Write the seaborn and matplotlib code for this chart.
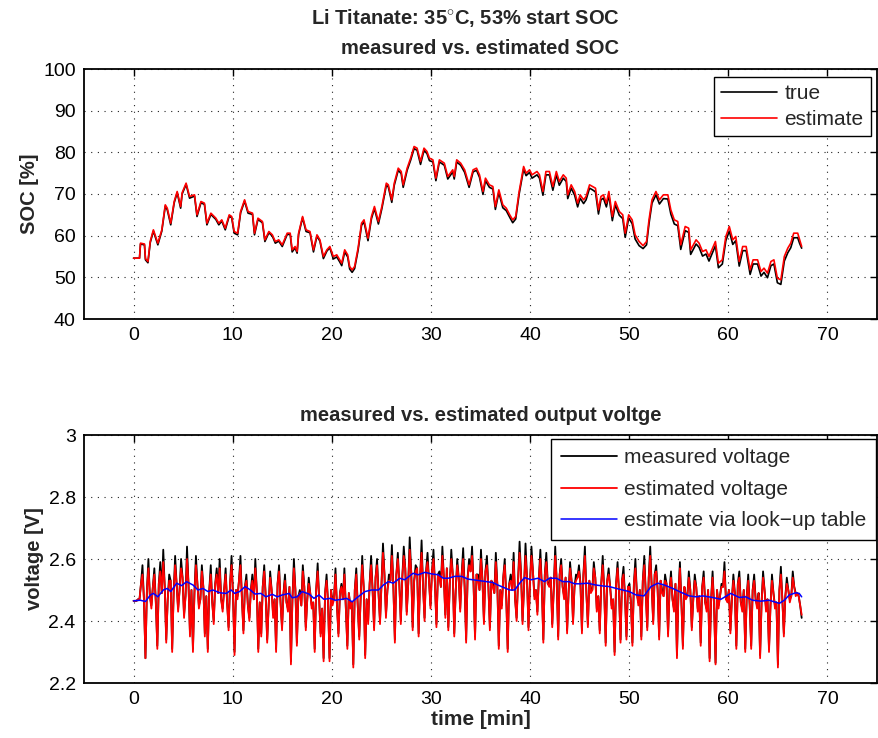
import numpy as np
import pandas as pd
import matplotlib
matplotlib.use("Agg")
import matplotlib.pyplot as plt
import seaborn as sns

# ---------------- SOC trace (minutes, percent) ----------------
soc_t = [0, 0.6, 0.7, 1.1, 1.2, 1.45, 1.68, 2.0, 2.45, 2.85, 3.2, 3.4, 3.75, 4.1, 4.4, 4.75, 4.9,
         5.3, 5.65, 6.15, 6.4, 6.8, 7.15, 7.4, 7.8, 8.3, 8.6, 8.9, 9.25, 9.65, 9.9, 10.15, 10.5,
         10.8, 11.2, 11.55, 12.0, 12.2, 12.55, 13.0, 13.25, 13.65, 14.0, 14.3, 14.65, 15.0, 15.5,
         15.8, 16.0, 16.3, 16.5, 16.65, 17.05, 17.4, 17.8, 18.15, 18.5, 18.8, 19.15, 19.5, 19.8,
         20.15, 20.5, 20.8, 21.0, 21.3, 21.6, 21.8, 22.05, 22.3, 22.65, 23.0, 23.25, 23.65, 24.0,
         24.3, 24.7, 25.05, 25.5, 25.7, 26.05, 26.3, 26.7, 27.0, 27.2, 27.6, 27.95, 28.3, 28.6,
         28.95, 29.3, 29.6, 29.85, 30.2, 30.5, 30.85, 31.35, 31.7, 32.2, 32.35, 32.6, 33.0, 33.4,
         33.85, 34.25, 34.6, 34.9, 35.25, 35.5, 35.9, 36.25, 36.5, 36.85, 37.25, 37.6, 37.95,
         38.25, 38.55, 38.9, 39.35, 39.6, 39.95, 40.2, 40.7, 40.95, 41.3, 41.6, 41.95, 42.3,
         42.65, 42.95, 43.35, 43.65, 43.8, 44.15, 44.5, 44.8, 45.05, 45.4, 45.65, 46.0, 46.3,
         46.6, 46.9, 47.15, 47.4, 47.7, 47.95, 48.3, 48.6, 49.0, 49.35, 49.6, 49.95, 50.3, 50.6,
         51.0, 51.4, 51.75, 52.0, 52.3, 52.7, 53.05, 53.45, 53.9, 54.2, 54.55, 54.9, 55.2, 55.65,
         56.0, 56.2, 56.75, 57.05, 57.4, 57.75, 58.05, 58.7, 59.0, 59.4, 59.75, 60.1, 60.45,
         60.75, 61.1, 61.45, 61.8, 62.2, 62.5, 62.95, 63.3, 63.6, 63.95, 64.3, 64.6, 64.95, 65.3,
         65.65, 66.0, 66.3, 66.6, 67.0, 67.2, 67.4]

soc_est = [54.6, 54.6, 58.2, 58.0, 54.5, 53.8, 58.6, 61.4, 58.2, 61.4, 67.4, 66.6, 63.0, 68.2, 70.6,
           67.0, 70.3, 72.6, 69.4, 69.8, 65.0, 68.2, 67.8, 63.0, 65.4, 64.2, 63.0, 63.8, 61.8,
           65.0, 64.6, 61.0, 60.6, 65.8, 68.6, 65.8, 65.4, 60.6, 64.2, 63.4, 59.0, 61.0, 60.2,
           58.6, 59.0, 57.8, 60.6, 60.6, 56.6, 57.4, 56.2, 60.6, 64.6, 61.4, 61.0, 56.6, 60.2,
           59.0, 55.0, 56.6, 57.4, 55.0, 55.4, 54.2, 53.4, 56.6, 55.4, 52.6, 51.8, 52.6, 57.0,
           63.0, 63.8, 59.4, 64.6, 67.0, 63.4, 67.0, 72.6, 72.2, 68.6, 72.6, 76.2, 75.4, 72.2,
           76.2, 78.6, 81.4, 81.0, 77.8, 81.0, 80.2, 78.6, 78.2, 73.8, 78.2, 77.4, 74.2, 75.8,
           74.2, 78.2, 77.4, 75.8, 72.2, 75.8, 76.2, 74.6, 70.6, 73.8, 72.2, 71.8, 67.0, 71.0,
           67.4, 66.6, 65.0, 63.8, 64.6, 70.6, 76.6, 75.0, 75.8, 74.6, 75.4, 74.6, 70.6, 75.4,
           75.4, 71.8, 75.4, 73.0, 74.6, 73.8, 69.8, 72.2, 70.6, 67.8, 69.8, 68.6, 69.4, 72.2,
           71.8, 71.4, 66.2, 69.4, 69.8, 67.8, 70.6, 64.6, 68.2, 65.8, 65.0, 60.6, 65.0, 63.8,
           60.2, 58.6, 57.6, 58.6, 63.8, 68.6, 70.6, 68.6, 69.8, 69.8, 66.2, 63.8, 63.4, 57.8,
           62.2, 61.8, 56.6, 59.0, 58.2, 56.2, 56.6, 55.0, 58.6, 53.4, 54.2, 59.8, 62.2, 59.0,
           59.8, 53.8, 57.4, 57.4, 51.8, 54.2, 54.2, 51.4, 52.2, 51.0, 53.8, 54.2, 49.8, 49.4,
           55.0, 57.0, 58.2, 60.6, 60.6, 59.0, 57.4]

soc_true = [54.6, 54.6, 58.0, 57.8, 54.2, 53.5, 58.3, 61.1, 57.8, 61.1, 67.1, 66.2, 62.6, 67.9, 70.3,
            66.6, 70.0, 72.3, 69.0, 69.5, 64.6, 67.9, 67.5, 62.6, 65.1, 63.9, 62.6, 63.5, 61.4,
            64.7, 64.3, 60.6, 60.2, 65.5, 68.3, 65.4, 65.1, 60.2, 63.9, 63.1, 58.6, 60.7, 59.9,
            58.2, 58.7, 57.4, 60.3, 60.3, 56.1, 57.1, 55.8, 60.3, 64.3, 61.0, 60.7, 56.1, 59.9,
            58.7, 54.5, 56.3, 57.1, 54.4, 54.9, 53.7, 52.8, 56.1, 54.9, 52.0, 51.2, 52.1, 56.5,
            62.5, 63.3, 58.8, 64.1, 66.5, 62.8, 66.5, 72.1, 71.7, 68.0, 72.1, 75.7, 74.9, 71.6,
            75.7, 78.1, 80.9, 80.5, 77.1, 80.5, 79.7, 78.0, 77.7, 73.2, 77.7, 76.9, 73.6, 75.3,
            73.6, 77.7, 76.9, 75.2, 71.6, 75.3, 75.7, 74.0, 69.9, 73.2, 71.6, 71.2, 66.3, 70.4,
            66.7, 66.0, 64.4, 63.1, 64.0, 70.0, 76.0, 74.4, 75.2, 73.8, 74.6, 73.8, 69.7, 74.6,
            74.6, 70.9, 74.6, 72.1, 73.8, 73.0, 68.9, 71.4, 69.7, 66.9, 69.0, 67.7, 68.6, 71.4,
            71.0, 70.5, 65.2, 68.6, 69.0, 66.9, 69.8, 63.6, 67.4, 64.9, 64.1, 59.6, 64.2, 62.9,
            59.2, 57.6, 56.9, 57.8, 62.9, 67.8, 69.8, 67.6, 68.9, 68.8, 65.2, 62.8, 62.4, 56.7,
            61.2, 60.8, 55.5, 58.0, 57.2, 55.1, 55.6, 53.9, 57.6, 52.3, 53.2, 58.8, 61.1, 57.9,
            58.8, 52.7, 56.4, 56.4, 50.7, 53.2, 53.2, 50.3, 51.2, 49.9, 52.8, 53.2, 48.7, 48.3,
            53.9, 55.9, 57.1, 59.5, 59.5, 58.1, 57.0]

# ---------------- terminal voltage (V) ----------------
# current-pulse extremes, one every ~0.3 min
v_measured = [
    2.465, 2.465, 2.47, 2.58, 2.28, 2.60, 2.45, 2.57, 2.32, 2.59,
    2.63, 2.34, 2.55, 2.31, 2.61, 2.44, 2.60, 2.42, 2.64, 2.36,
    2.31, 2.61, 2.45, 2.58, 2.36, 2.31, 2.58, 2.40, 2.57, 2.60,
    2.44, 2.57, 2.38, 2.61, 2.30, 2.48, 2.61, 2.37, 2.55, 2.41,
    2.55, 2.60, 2.31, 2.36, 2.58, 2.34, 2.56, 2.42, 2.31, 2.58,
    2.38, 2.55, 2.44, 2.27, 2.60, 2.33, 2.50, 2.58, 2.38, 2.54,
    2.45, 2.31, 2.586, 2.36, 2.28, 2.55, 2.28, 2.46, 2.57, 2.36,
    2.52, 2.57, 2.32, 2.45, 2.26, 2.57, 2.35, 2.61, 2.29, 2.40,
    2.61, 2.38, 2.60, 2.40, 2.65, 2.42, 2.55, 2.645, 2.34, 2.62,
    2.40, 2.64, 2.43, 2.67, 2.38, 2.58, 2.36, 2.66, 2.41, 2.62,
    2.45, 2.63, 2.39, 2.56, 2.64, 2.42, 2.38, 2.63, 2.36, 2.60,
    2.44, 2.635, 2.34, 2.60, 2.64, 2.35, 2.55, 2.63, 2.40, 2.61,
    2.38, 2.52, 2.62, 2.32, 2.45, 2.60, 2.31, 2.55, 2.62, 2.41,
    2.656, 2.40, 2.65, 2.38, 2.64, 2.48, 2.43, 2.63, 2.34, 2.62,
    2.52, 2.39, 2.64, 2.35, 2.60, 2.48, 2.37, 2.59, 2.40, 2.55,
    2.58, 2.37, 2.64, 2.39, 2.50, 2.59, 2.44, 2.37, 2.61, 2.33,
    2.57, 2.45, 2.30, 2.59, 2.34, 2.575, 2.35, 2.52, 2.33, 2.60,
    2.46, 2.35, 2.61, 2.38, 2.64, 2.40, 2.58, 2.35, 2.50, 2.55,
    2.36, 2.56, 2.44, 2.29, 2.59, 2.32, 2.48, 2.56, 2.38, 2.55,
    2.44, 2.33, 2.56, 2.44, 2.28, 2.56, 2.265, 2.45, 2.52, 2.59,
    2.47, 2.37, 2.55, 2.32, 2.56, 2.44, 2.31, 2.55, 2.32, 2.55,
    2.45, 2.29, 2.56, 2.44, 2.31, 2.55, 2.45, 2.26, 2.575, 2.36,
    2.54, 2.47, 2.56, 2.49, 2.48, 2.41]

v_estimated = [
    2.465, 2.465, 2.47, 2.55, 2.28, 2.57, 2.44, 2.55, 2.31, 2.56,
    2.59, 2.33, 2.53, 2.30, 2.58, 2.43, 2.57, 2.41, 2.60, 2.35,
    2.30, 2.58, 2.44, 2.56, 2.35, 2.30, 2.55, 2.39, 2.55, 2.57,
    2.43, 2.55, 2.37, 2.58, 2.29, 2.47, 2.58, 2.36, 2.53, 2.40,
    2.53, 2.57, 2.30, 2.35, 2.56, 2.33, 2.54, 2.41, 2.30, 2.56,
    2.37, 2.53, 2.43, 2.26, 2.57, 2.32, 2.49, 2.56, 2.37, 2.52,
    2.44, 2.30, 2.56, 2.35, 2.27, 2.53, 2.27, 2.45, 2.55, 2.35,
    2.51, 2.55, 2.31, 2.44, 2.25, 2.55, 2.34, 2.58, 2.28, 2.39,
    2.58, 2.37, 2.58, 2.39, 2.62, 2.41, 2.53, 2.61, 2.33, 2.60,
    2.39, 2.61, 2.42, 2.63, 2.37, 2.56, 2.35, 2.62, 2.40, 2.59,
    2.44, 2.60, 2.38, 2.54, 2.61, 2.41, 2.37, 2.60, 2.35, 2.58,
    2.43, 2.60, 2.33, 2.58, 2.61, 2.34, 2.53, 2.60, 2.39, 2.58,
    2.37, 2.51, 2.59, 2.31, 2.44, 2.58, 2.30, 2.53, 2.59, 2.40,
    2.62, 2.39, 2.61, 2.37, 2.61, 2.47, 2.42, 2.60, 2.33, 2.59,
    2.51, 2.38, 2.61, 2.34, 2.58, 2.47, 2.36, 2.57, 2.39, 2.53,
    2.56, 2.36, 2.61, 2.38, 2.49, 2.57, 2.43, 2.36, 2.58, 2.32,
    2.55, 2.44, 2.29, 2.57, 2.33, 2.55, 2.34, 2.51, 2.32, 2.57,
    2.45, 2.34, 2.58, 2.37, 2.61, 2.39, 2.56, 2.34, 2.49, 2.53,
    2.35, 2.54, 2.43, 2.28, 2.57, 2.31, 2.47, 2.54, 2.37, 2.53,
    2.43, 2.32, 2.54, 2.43, 2.27, 2.54, 2.26, 2.44, 2.51, 2.56,
    2.46, 2.36, 2.53, 2.31, 2.54, 2.43, 2.30, 2.53, 2.31, 2.53,
    2.44, 2.28, 2.54, 2.43, 2.30, 2.53, 2.44, 2.25, 2.55, 2.35,
    2.52, 2.46, 2.54, 2.48, 2.48, 2.42]

# relaxed voltage between consecutive pulses (measured and estimate coincide here)
v_rest = [
    2.465, 2.47, 2.52, 2.47, 2.50, 2.48, 2.51, 2.46, 2.52, 2.49,
    2.51, 2.47, 2.53, 2.49, 2.52, 2.50, 2.54, 2.48, 2.52, 2.50,
    2.49, 2.52, 2.47, 2.51, 2.48, 2.50, 2.46, 2.52, 2.49, 2.47,
    2.50, 2.46, 2.52, 2.48, 2.50, 2.53, 2.47, 2.51, 2.45, 2.50,
    2.47, 2.50, 2.46, 2.51, 2.48, 2.45, 2.50, 2.47, 2.52, 2.46,
    2.49, 2.46, 2.51, 2.47, 2.50, 2.48, 2.45, 2.51, 2.47, 2.49,
    2.46, 2.50, 2.47, 2.44, 2.49, 2.46, 2.50, 2.47, 2.45, 2.49,
    2.47, 2.44, 2.49, 2.46, 2.50, 2.45, 2.48, 2.51, 2.47, 2.52,
    2.50, 2.54, 2.49, 2.52, 2.55, 2.50, 2.53, 2.51, 2.55, 2.52,
    2.54, 2.57, 2.52, 2.56, 2.53, 2.57, 2.54, 2.51, 2.56, 2.53,
    2.56, 2.52, 2.55, 2.51, 2.54, 2.57, 2.52, 2.55, 2.50, 2.54,
    2.55, 2.51, 2.54, 2.56, 2.52, 2.55, 2.50, 2.53, 2.56, 2.51,
    2.53, 2.49, 2.52, 2.50, 2.54, 2.48, 2.52, 2.50, 2.47, 2.53,
    2.55, 2.51, 2.54, 2.52, 2.56, 2.50, 2.54, 2.51, 2.55, 2.52,
    2.54, 2.50, 2.53, 2.55, 2.51, 2.54, 2.49, 2.53, 2.51, 2.54,
    2.52, 2.55, 2.49, 2.53, 2.50, 2.54, 2.48, 2.52, 2.50, 2.53,
    2.51, 2.47, 2.52, 2.49, 2.53, 2.48, 2.51, 2.46, 2.52, 2.49,
    2.50, 2.53, 2.49, 2.54, 2.51, 2.55, 2.50, 2.53, 2.48, 2.52,
    2.50, 2.47, 2.52, 2.49, 2.46, 2.51, 2.48, 2.50, 2.47, 2.51,
    2.48, 2.51, 2.46, 2.50, 2.47, 2.45, 2.50, 2.48, 2.51, 2.47,
    2.50, 2.47, 2.49, 2.52, 2.46, 2.50, 2.48, 2.45, 2.50, 2.47,
    2.49, 2.46, 2.50, 2.47, 2.45, 2.49, 2.46, 2.50, 2.47, 2.48,
    2.50, 2.48, 2.51, 2.49, 2.45]

# look-up table (OCV) based estimate
lut_t = [0, 0.67, 1.2, 1.7, 2.0, 2.45, 3.0, 3.4, 3.75, 4.35, 4.85, 5.35, 6.0, 6.5, 7.0, 7.5, 8.0,
         8.7, 9.35, 9.85, 10.2, 10.7, 11.25, 11.7, 12.25, 12.85, 13.35, 14.0, 14.5, 15.0, 15.7,
         16.0, 16.5, 17.0, 17.7, 18.2, 18.7, 19.2, 19.85, 20.35, 21.0, 21.5, 22.05, 22.65, 23.35,
         24.0, 24.7, 25.2, 25.7, 26.2, 26.85, 27.35, 28.2, 28.7, 29.4, 30.05, 30.75, 31.25,
         31.75, 32.4, 33.1, 33.75, 34.25, 35.6, 36.25, 36.75, 37.95, 38.45, 38.95, 39.45, 40.1,
         40.8, 41.45, 41.95, 42.65, 43.3, 43.95, 44.5, 45.0, 45.8, 46.65, 47.35, 48.0, 48.7,
         49.35, 50.0, 50.7, 51.5, 52.2, 52.9, 53.55, 54.4, 55.05, 56.05, 56.75, 57.4, 58.4,
         59.25, 60.25, 61.1, 61.75, 62.45, 63.3, 64.1, 65.15, 65.65, 66.15, 66.8, 67.15, 67.4]
lut_v = [2.465, 2.467, 2.463, 2.484, 2.489, 2.478, 2.500, 2.505, 2.495, 2.522, 2.514, 2.527,
         2.516, 2.500, 2.505, 2.495, 2.500, 2.491, 2.489, 2.500, 2.489, 2.495, 2.511, 2.502,
         2.487, 2.489, 2.478, 2.486, 2.478, 2.484, 2.489, 2.475, 2.478, 2.495, 2.487, 2.473,
         2.484, 2.470, 2.473, 2.467, 2.470, 2.473, 2.462, 2.478, 2.495, 2.500, 2.500, 2.516,
         2.527, 2.522, 2.538, 2.533, 2.554, 2.549, 2.557, 2.552, 2.549, 2.538, 2.538, 2.544,
         2.544, 2.535, 2.533, 2.527, 2.524, 2.516, 2.500, 2.500, 2.522, 2.540, 2.533, 2.538,
         2.527, 2.538, 2.538, 2.527, 2.527, 2.520, 2.520, 2.522, 2.516, 2.513, 2.511, 2.505,
         2.500, 2.495, 2.484, 2.481, 2.511, 2.522, 2.516, 2.505, 2.495, 2.481, 2.478, 2.481,
         2.476, 2.470, 2.489, 2.476, 2.478, 2.467, 2.464, 2.467, 2.457, 2.467, 2.484, 2.491,
         2.489, 2.478]

x_ticks = [0, 10, 20, 30, 40, 50, 60, 70]
soc_ticks = [40, 50, 60, 70, 80, 90, 100]
v_ticks = [2.2, 2.4, 2.6, 2.8, 3.0]
v_tick_labels = ["2.2", "2.4", "2.6", "2.8", "3"]


def pulse_train(extremes, rest):
    """Alternate pulse extremes with the relaxed values between them."""
    vals = np.empty(len(extremes) + len(rest))
    vals[0::2] = extremes
    vals[1::2] = rest
    return vals


v_meas_full = pulse_train(v_measured, v_rest)
v_est_full = pulse_train(v_estimated, v_rest)
v_time = np.linspace(0, 67.4, len(v_meas_full))

sns.set_theme(style="white")
plt.rcParams["font.family"] = ["Liberation Sans", "DejaVu Sans"]
plt.rcParams["mathtext.fontset"] = "custom"
plt.rcParams["mathtext.rm"] = "Liberation Sans"

W, H = 879, 738
fig = plt.figure(figsize=(W / 100, H / 100), dpi=100)
fig.patch.set_facecolor("white")

ax1 = fig.add_axes([84 / W, 1 - 319 / H, (877 - 84) / W, (319 - 69) / H])
ax2 = fig.add_axes([84 / W, 1 - 683 / H, (877 - 84) / W, (683 - 435) / H])

soc_df = pd.DataFrame({"t": soc_t, "true": soc_true, "estimate": soc_est})
v_df = pd.DataFrame({"t": v_time, "measured": v_meas_full, "estimated": v_est_full})
lut_df = pd.DataFrame({"t": lut_t, "v": lut_v})

sns.lineplot(data=soc_df, x="t", y="true", ax=ax1, color="black", lw=1.2,
             sort=False, estimator=None, label="true")
sns.lineplot(data=soc_df, x="t", y="estimate", ax=ax1, color="red", lw=1.2,
             sort=False, estimator=None, label="estimate")

sns.lineplot(data=v_df, x="t", y="measured", ax=ax2, color="black", lw=1.3,
             sort=False, estimator=None, label="measured voltage")
sns.lineplot(data=v_df, x="t", y="estimated", ax=ax2, color="red", lw=1.3,
             sort=False, estimator=None, label="estimated voltage")
sns.lineplot(data=lut_df, x="t", y="v", ax=ax2, color="blue", lw=1.1,
             sort=False, estimator=None, label="estimate via look\u2212up table")

for ax in (ax1, ax2):
    ax.set_xlim(-5, 75)
    ax.set_xticks(x_ticks)
    ax.grid(True, color="#222222", linestyle=(0, (1, 5)), linewidth=0.8)
    ax.tick_params(direction="in", length=5, width=1, top=True, right=True,
                   labelsize=14, colors="black", pad=6)
    for sp in ax.spines.values():
        sp.set_color("black")
        sp.set_linewidth(1.3)
    ax.set_axisbelow(True)

ax1.set_ylim(40, 100)
ax1.set_yticks(soc_ticks)
ax1.set_xlabel("")
ax1.set_ylabel("SOC [%]", fontsize=14.5, fontweight="bold", labelpad=3)
ax1.set_title("measured vs. estimated SOC", fontsize=14.5, fontweight="bold", pad=11)
ax1.text(0.4817, 1.0 + 51 / 250, "Li Titanate: 35$^{\\circ}$C, 53% start SOC",
         transform=ax1.transAxes, ha="center", va="center",
         fontsize=14.5, fontweight="bold")

ax2.set_ylim(2.2, 3.0)
ax2.set_yticks(v_ticks)
ax2.set_yticklabels(v_tick_labels)
ax2.set_xlabel("time [min]", fontsize=15, fontweight="bold", labelpad=1)
ax2.set_ylabel("voltage [V]", fontsize=14.5, fontweight="bold", labelpad=3)
ax2.set_title("measured vs. estimated output voltge", fontsize=14.5,
              fontweight="bold", pad=10)

leg1 = ax1.legend(loc="upper right", bbox_to_anchor=(871 / W, 1 - 77 / H),
                  bbox_transform=fig.transFigure, borderaxespad=0,
                  fontsize=15, handlelength=2.7, labelspacing=0.33,
                  fancybox=False, framealpha=1, edgecolor="black",
                  borderpad=0.35, handletextpad=0.35)
leg1.get_frame().set_linewidth(1.0)

leg2 = ax2.legend(loc="upper right", bbox_to_anchor=(876 / W, 1 - 439 / H),
                  bbox_transform=fig.transFigure, borderaxespad=0,
                  fontsize=15, handlelength=2.7, labelspacing=0.6,
                  fancybox=False, framealpha=1, edgecolor="black",
                  borderpad=0.45, handletextpad=0.35)
leg2.get_frame().set_linewidth(1.0)

fig.savefig("out.png", dpi=100, facecolor="white")
